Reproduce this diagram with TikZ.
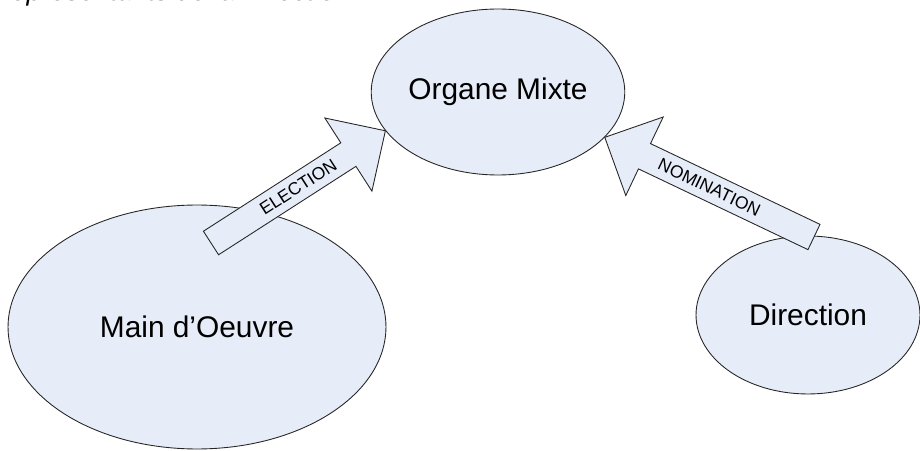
\documentclass[tikz,border=0pt]{standalone}
\usepackage{fontspec}
\setmainfont{Liberation Sans}
\usetikzlibrary{shapes.geometric,calc}
\definecolor{fondbleu}{RGB}{231,237,248}
\tikzset{
  bulle/.style={ellipse,draw=black!85,line width=0.5pt,fill=fondbleu,inner sep=0pt,font=\fontsize{17}{20}\selectfont},
  fleche/.style={draw=black!85,line width=0.5pt,fill=fondbleu,line join=miter},
  etiquette/.style={font=\fontsize{10}{12}\selectfont,inner sep=0pt}
}
\begin{document}
\begin{tikzpicture}[x=0.02cm,y=0.02cm]
  \useasboundingbox (0,0) rectangle (920,450);
  \clip (0,0) rectangle (920,450);
  \pgfmathsetlengthmacro{\tige}{0.28cm}
  \pgfmathsetlengthmacro{\aile}{0.87cm}
  \pgfmathsetlengthmacro{\tete}{0.88cm}
  % titre coupe par le bord
  \node[anchor=base west,inner sep=0pt,font=\itshape\fontsize{15.5}{18}\selectfont] (titre) at (2,449.5) {représentants de la Direction};
  \node[bulle,minimum width=5cm,minimum height=3.32cm] (om) at (498,358) {Organe Mixte};
  \node[bulle,minimum width=7.56cm,minimum height=4.88cm] (mo) at (197,123) {Main d’Oeuvre};
  \node[bulle,minimum width=4.48cm,minimum height=3.16cm] (dir) at (808,135) {Direction};
  \coordinate (qE) at (211,207);
  \coordinate (qN) at (814,213);
  \foreach \queue/\pointe/\texte in {qE/om.199/ELECTION,qN/om.337/NOMINATION}{
    \coordinate (base) at ($(\pointe)!\tete!(\queue)$);
    \draw[fleche] ($(\queue)!\tige!90:(\pointe)$) -- ($(base)!\tige!90:(\pointe)$) -- ($(base)!\aile!90:(\pointe)$) -- (\pointe)
      -- ($(base)!\aile!-90:(\pointe)$) -- ($(base)!\tige!-90:(\pointe)$) -- ($(\queue)!\tige!-90:(\pointe)$) -- cycle;
    \path (\queue) -- node[etiquette,sloped] {\texte} (\pointe);
  }
\end{tikzpicture}
\end{document}
